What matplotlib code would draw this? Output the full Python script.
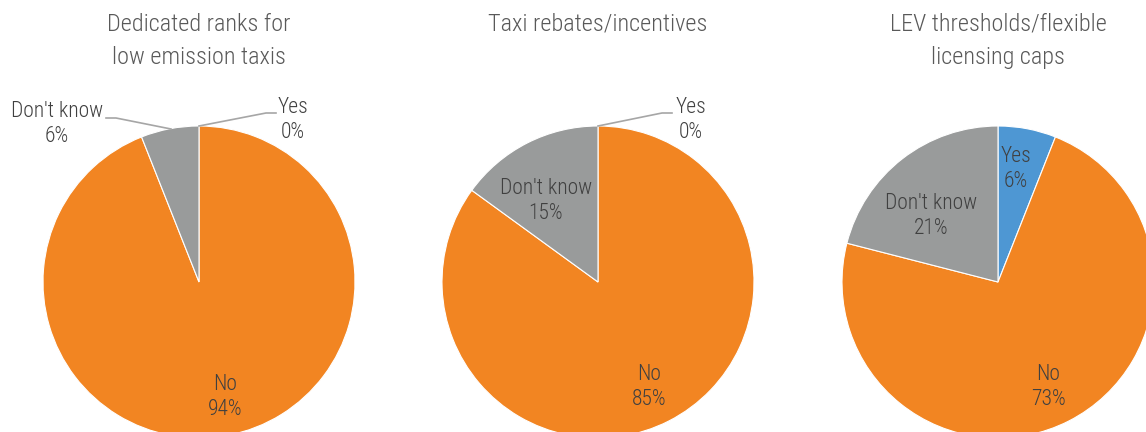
import matplotlib
matplotlib.use("Agg")
import matplotlib.pyplot as plt
import numpy as np

plt.rcParams['font.family'] = ['Roboto Condensed', 'Roboto', 'DejaVu Sans']

# Survey answers per measure (percent)
titles = ["Dedicated ranks for\nlow emission taxis",
          "Taxi rebates/incentives",
          "LEV thresholds/flexible\nlicensing caps"]
categories = ["Yes", "No", "Don't know"]
yes_pct = [0, 0, 6]
no_pct = [94, 85, 73]
dontknow_pct = [6, 15, 21]

colors = ["#4E97D3", "#F28522", "#999B9B"]
text_color = "#404040"
title_color = "#595959"

W, H = 1146, 432
fig = plt.figure(figsize=(W / 100, H / 100), dpi=100)
ax = fig.add_axes([0, 0, 1, 1])

centers_x = [199, 598, 998]
center_y = H - 282
radius = 156

# label placement per pie, in pixel coords from the top-left
label_pos = [
    {"Yes": (293, 120), "No": (225, 397), "Don't know": (57, 124)},
    {"Yes": (691, 120), "No": (649, 387), "Don't know": (546, 201)},
    {"Yes": (1016, 169), "No": (1048, 387), "Don't know": (931, 216)},
]
# leader lines for labels placed outside the pie
leaders = [
    {"Yes": [(199, 126), (266, 113), (276, 113)],
     "Don't know": [(171, 129), (116, 118), (106, 118)]},
    {"Yes": [(598, 126), (662, 113), (672, 113)]},
    {},
]

for i in range(3):
    vals = [yes_pct[i], no_pct[i], dontknow_pct[i]]
    ax.pie(vals, colors=colors, startangle=90, counterclock=False,
           radius=radius, center=(centers_x[i], center_y), frame=True,
           wedgeprops=dict(edgecolor="white", linewidth=0.8))
    for cat, v in zip(categories, vals):
        px, py = label_pos[i][cat]
        ax.text(px, H - py, f"{cat}\n{v}%", ha="center", va="center",
                fontsize=15.5, color=text_color, linespacing=1.2,
                fontweight="light")
    for cat, pts in leaders[i].items():
        xs = [p[0] for p in pts]
        ys = [H - p[1] for p in pts]
        ax.plot(xs, ys, color="#A6A6A6", linewidth=1.2)
    ax.text(centers_x[i], H - 13, titles[i], ha="center", va="top",
            fontsize=17.5, color=title_color, linespacing=1.55,
            fontweight="light")

ax.set_xlim(0, W)
ax.set_ylim(0, H)
ax.set_aspect("auto")
ax.axis("off")

fig.savefig("out.png", dpi=100)
